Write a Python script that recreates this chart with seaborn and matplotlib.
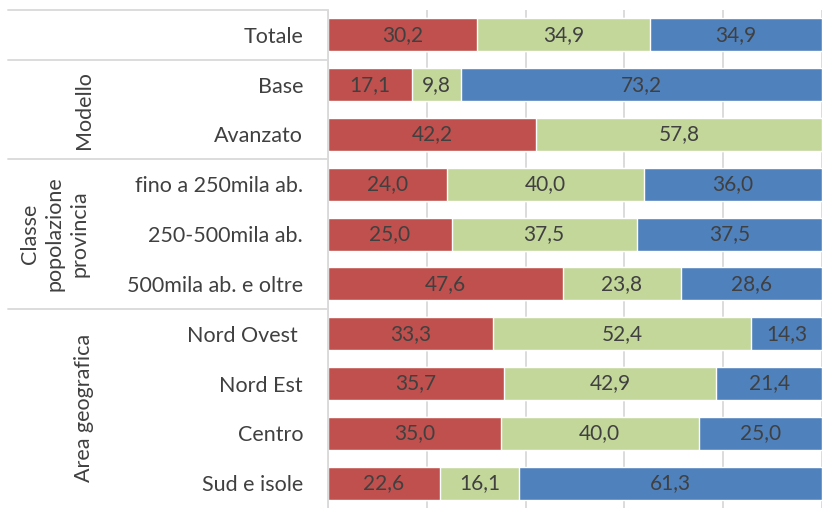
import numpy as np
import pandas as pd
import matplotlib
matplotlib.use("Agg")
import matplotlib.pyplot as plt
import matplotlib.transforms as mtransforms
import seaborn as sns

# data
categories = ["Totale", "Base", "Avanzato", "fino a 250mila ab.", "250-500mila ab.",
              "500mila ab. e oltre", "Nord Ovest ", "Nord Est", "Centro", "Sud e isole"]
red_vals = [30.2, 17.1, 42.2, 24.0, 25.0, 47.6, 33.3, 35.7, 35.0, 22.6]
green_vals = [34.9, 9.8, 57.8, 40.0, 37.5, 23.8, 52.4, 42.9, 40.0, 16.1]
blue_vals = [34.9, 73.2, 0.0, 36.0, 37.5, 28.6, 14.3, 21.4, 25.0, 61.3]

groups = ["Modello", "Classe\npopolazione\nprovincia", "Area geografica"]
group_rows = [(1, 2), (3, 5), (6, 9)]
separators = [-0.5, 0.5, 2.5, 5.5]

RED = "#C0504D"
GREEN = "#C4D79B"
BLUE = "#4F81BD"
TEXT = "#404040"
GRID = "#D9D9D9"

sns.set_theme(style="white")
plt.rcParams["font.family"] = ["Lato", "DejaVu Sans"]

df = pd.DataFrame({"cat": categories, "red": red_vals, "green": green_vals, "blue": blue_vals})
df["c1"] = df["red"]
df["c2"] = df["red"] + df["green"]
df["c3"] = df["red"] + df["green"] + df["blue"]

W, H = 822, 508
fig = plt.figure(figsize=(W / 100, H / 100), dpi=100)
ax = fig.add_axes([328 / W, 0, (W - 328) / W, (H - 10) / H])

# stacked bars: draw cumulative totals back to front
for col, color in [("c3", BLUE), ("c2", GREEN), ("c1", RED)]:
    sns.barplot(data=df, x=col, y="cat", orient="h", color=color, width=0.66,
                saturation=1, ax=ax, zorder=2)

ax.set_xlim(0, 100)
ax.set_ylim(9.5, -0.5)
ax.set_xticks([0, 20, 40, 60, 80, 100])
ax.set_xticklabels([])
ax.xaxis.grid(True, color=GRID, linewidth=1.3, zorder=0)
ax.set_axisbelow(True)
ax.set_xlabel("")
ax.set_ylabel("")
ax.tick_params(axis="both", length=0)
ax.tick_params(axis="y", pad=18, labelsize=15.5, labelcolor=TEXT)
for s in ["top", "right", "bottom"]:
    ax.spines[s].set_visible(False)
ax.spines["left"].set_color(GRID)
ax.spines["left"].set_linewidth(1.3)

# value labels
for i, row in df.iterrows():
    starts = [0, row["c1"], row["c2"]]
    for start, val in zip(starts, [row["red"], row["green"], row["blue"]]):
        if val > 0:
            ax.text(start + val / 2, i, f"{val:.1f}".replace(".", ","), ha="center",
                    va="center", fontsize=15, color=TEXT, zorder=3)

# separator lines in label area
trans = mtransforms.blended_transform_factory(fig.transFigure, ax.transData)
for y in separators:
    ax.plot([8 / W, 327 / W], [y, y], color=GRID, linewidth=1.3,
            transform=trans, clip_on=False)

# group labels
gx = [84, 55, 84]
for name, (a, b), x in zip(groups, group_rows, gx):
    ax.text(x / W, (a + b) / 2, name, transform=trans, rotation=90, ha="center",
            va="center", fontsize=15.5, color=TEXT, linespacing=1.3, multialignment="center")

fig.savefig("out.png", dpi=100)
